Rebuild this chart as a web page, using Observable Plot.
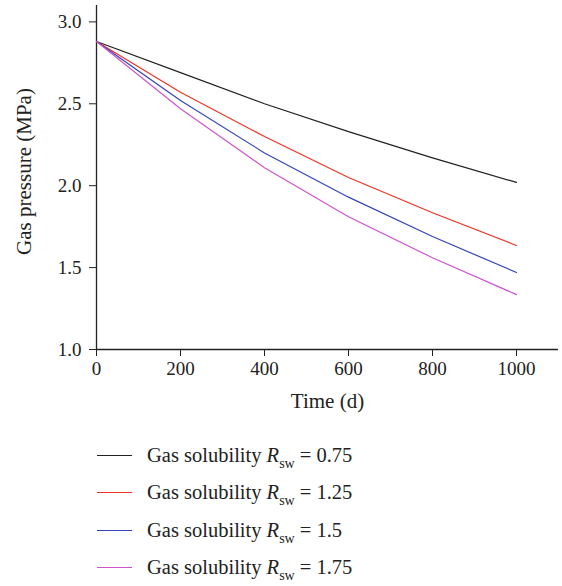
<!DOCTYPE html>
<html>
<head>
<meta charset="utf-8">
<script src="https://cdn.jsdelivr.net/npm/d3@7"></script>
<script src="https://cdn.jsdelivr.net/npm/@observablehq/plot@0.6"></script>
<style>
  body { margin: 0; background: #fff; font-family: "Liberation Serif", "DejaVu Serif", serif; }
  #chart svg { display: block; }
  .legend { margin-left: 97px; margin-top: 17px; }
  .legend .row { display: flex; align-items: center; height: 37.3px; font-size: 20.5px; color: #222; }
  .legend .sw { width: 35px; height: 0; border-top: 1.5px solid; margin-right: 15px; }
  .legend sub { font-size: 14px; vertical-align: -6px; line-height: 0; }
</style>
</head>
<body>
<div id="chart"></div>
<div class="legend" id="legend"></div>
<script>
const times = [0, 200, 400, 600, 800, 1000];
const seriesNames = ["0.75", "1.25", "1.5", "1.75"];
const seriesColors = ["#222222", "#ee3322", "#3344bb", "#cc55cc"];
const rsw075 = [2.88, 2.69, 2.50, 2.33, 2.17, 2.02];
const rsw125 = [2.88, 2.57, 2.30, 2.05, 1.835, 1.635];
const rsw150 = [2.88, 2.52, 2.20, 1.93, 1.69, 1.47];
const rsw175 = [2.88, 2.47, 2.11, 1.81, 1.56, 1.335];
const xTicks = [0, 200, 400, 600, 800, 1000];
const yTicks = [1.0, 1.5, 2.0, 2.5, 3.0];

const allSeries = [rsw075, rsw125, rsw150, rsw175];
const data = [];
allSeries.forEach((vals, i) => vals.forEach((v, j) => data.push({t: times[j], p: v, s: seriesNames[i]})));

const font = "Liberation Serif, DejaVu Serif, serif";
const plot = Plot.plot({
  width: 562,
  height: 420,
  marginLeft: 96,
  marginRight: 4,
  marginTop: 5,
  marginBottom: 71,
  style: {fontFamily: font, fontSize: "19px", color: "#222", background: "#fff"},
  x: {domain: [0, 1100]},
  y: {domain: [1, 3.1]},
  color: {domain: seriesNames, range: seriesColors},
  marks: [
    Plot.axisX({ticks: xTicks, tickSize: 7, tickPadding: 5, tickFormat: d => String(d), label: null, fontSize: 19}),
    Plot.axisY({ticks: yTicks, tickSize: 7, tickPadding: 8, tickFormat: d => d.toFixed(1), label: null, fontSize: 19}),
    Plot.text(["Time (d)"], {frameAnchor: "bottom", dy: 58, fontSize: 21, fill: "#222"}),
    Plot.text(["Gas pressure (MPa)"], {frameAnchor: "left", textAnchor: "middle", dx: -72, dy: -6, rotate: -90, fontSize: 21, fill: "#222"}),
    Plot.ruleY([1], {stroke: "#222", strokeWidth: 1.3, x1: 0, x2: 1100}),
    Plot.ruleX([0], {stroke: "#222", strokeWidth: 1.3}),
    Plot.line(data, {x: "t", y: "p", stroke: "s", z: "s", strokeWidth: 1.2})
  ]
});
document.getElementById("chart").appendChild(plot);

const legend = document.getElementById("legend");
seriesNames.forEach((n, i) => {
  const row = document.createElement("div");
  row.className = "row";
  row.innerHTML = `<span class="sw" style="border-color:${seriesColors[i]}"></span><span>Gas solubility <i>R</i><sub>sw</sub> = ${n}</span>`;
  legend.appendChild(row);
});
</script>
</body>
</html>
